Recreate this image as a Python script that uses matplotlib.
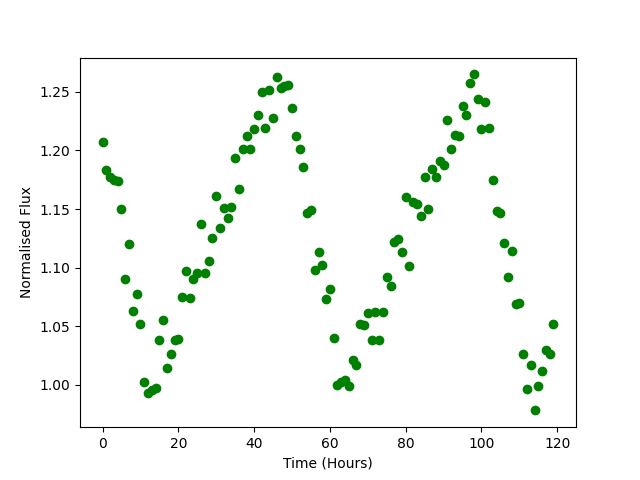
import numpy as np
import matplotlib
matplotlib.use('Agg')
import matplotlib.pyplot as plt

#-- time in hours
hours = np.arange(120)

#-- normalised flux
flux = [1.207, 1.183, 1.177, 1.175, 1.174, 1.150, 1.090, 1.120, 1.063, 1.077,
        1.052, 1.002, 0.993, 0.995, 0.997, 1.038, 1.055, 1.014, 1.026, 1.038,
        1.039, 1.075, 1.097, 1.074, 1.090, 1.095, 1.137, 1.095, 1.106, 1.125,
        1.161, 1.134, 1.151, 1.142, 1.152, 1.194, 1.167, 1.201, 1.212, 1.201,
        1.218, 1.230, 1.250, 1.219, 1.252, 1.228, 1.263, 1.253, 1.255, 1.256,
        1.236, 1.212, 1.201, 1.186, 1.147, 1.149, 1.098, 1.113, 1.102, 1.073,
        1.082, 1.040, 1.000, 1.002, 1.004, 0.999, 1.021, 1.017, 1.052, 1.051,
        1.061, 1.038, 1.062, 1.038, 1.062, 1.092, 1.084, 1.122, 1.124, 1.113,
        1.160, 1.101, 1.156, 1.154, 1.144, 1.177, 1.150, 1.184, 1.177, 1.191,
        1.188, 1.226, 1.201, 1.213, 1.212, 1.238, 1.230, 1.258, 1.265, 1.244,
        1.218, 1.241, 1.219, 1.175, 1.148, 1.147, 1.121, 1.092, 1.114, 1.069,
        1.070, 1.026, 0.996, 1.017, 0.978, 0.999, 1.012, 1.030, 1.026, 1.052]

fig, ax = plt.subplots(figsize=(6.4, 4.8), dpi=100)

ax.plot(hours, flux, 'go')

ax.set_xlabel('Time (Hours)')
ax.set_ylabel('Normalised Flux')

plt.savefig('out.png', dpi=100)
